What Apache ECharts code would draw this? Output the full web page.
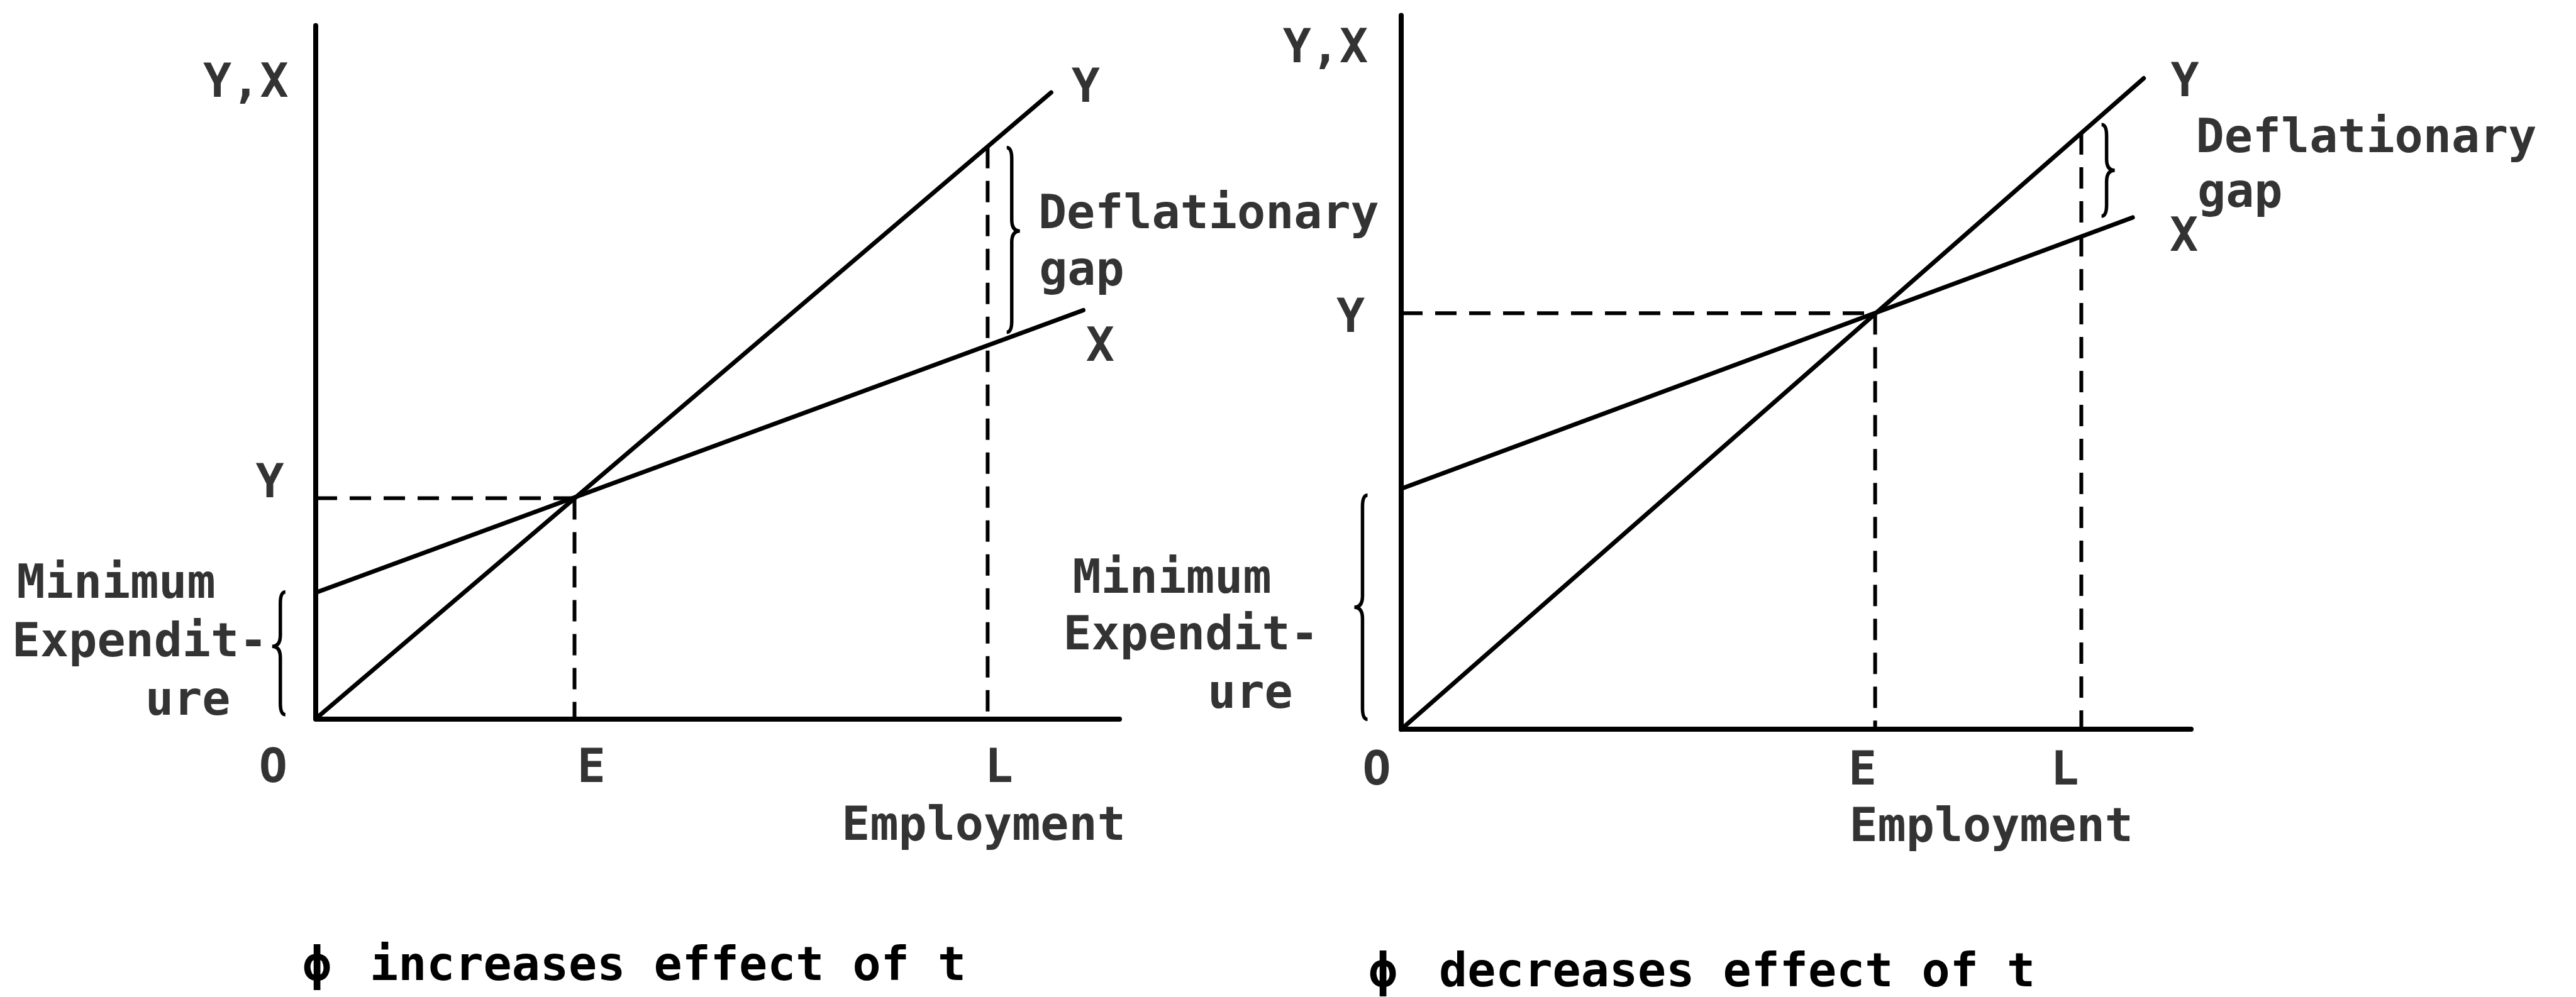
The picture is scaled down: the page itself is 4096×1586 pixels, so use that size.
<!DOCTYPE html>
<html>
<head>
<meta charset="utf-8">
<script src="https://cdn.jsdelivr.net/npm/echarts@6/dist/echarts.min.js"></script>
<style>
  html, body { margin: 0; padding: 0; background: #fff; }
  #chart { width: 4096px; height: 1586px; }
</style>
</head>
<body>
<div id="chart"></div>
<script>
// left panel: phi increases effect of t
const leftYLine = [[0, 0], [9.15, 9.09]];
const leftXLine = [[0, 1.83], [9.55, 5.93]];
const leftE = [3.22, 3.2];
const leftL = [8.36, 8.3];
// braces: [x, top, bottom, tip, direction]
const leftBraces = [[-0.44, 1.84, 0.06, 1.05, -1], [8.66, 8.29, 5.61, 7.08, 1]];
const leftLabels = [
  ['Y,X', -0.87, 9.27], ['Y', -0.57, 3.46], ['Y', 9.58, 9.2], ['X', 9.76, 5.44],
  ['O', -0.53, -0.68], ['E', 3.43, -0.68], ['L', 8.5, -0.68], ['Employment', 8.31, -1.52],
  ['Deflationary', 8.99, 7.36, 'left'], ['gap', 9.0, 6.54, 'left'],
  ['Minimum', -3.72, 2.0, 'left'], ['Expendit-', -3.78, 1.15, 'left'], ['ure', -2.12, 0.30, 'left']
];

// right panel: phi decreases effect of t
const rightYLine = [[0, 0], [9.4, 9.12]];
const rightXLine = [[0, 3.37], [9.26, 7.17]];
const rightE = [6.0, 5.83];
const rightL = [8.61, 8.35];
const rightBraces = [[-0.49, 3.28, 0.14, 1.71, -1], [8.93, 8.47, 7.19, 7.83, 1]];
const rightLabels = [
  ['Y,X', -0.96, 9.58], ['Y', -0.64, 5.8], ['Y', 9.92, 9.1], ['X', 9.91, 6.94],
  ['O', -0.31, -0.54], ['E', 5.84, -0.54], ['L', 8.4, -0.54], ['Employment', 7.47, -1.33],
  ['Deflationary', 10.06, 8.32, 'left'], ['gap', 10.08, 7.55, 'left'],
  ['Minimum', -4.16, 2.15, 'left'], ['Expendit-', -4.28, 1.35, 'left'], ['ure', -2.45, 0.53, 'left']
];

const captions = ['increases effect of t', 'decreases effect of t'];

const FONT = 'DejaVu Sans Mono';
const FS = 75;

function axisBase(gridIndex, max) {
  return {
    gridIndex, type: 'value', min: 0, max,
    axisLine: {show: true, onZero: false, lineStyle: {color: '#000', width: 8}},
    axisTick: {show: false}, axisLabel: {show: false}, splitLine: {show: false}
  };
}

function solid(idx, data) {
  return {type: 'line', xAxisIndex: idx, yAxisIndex: idx, data, symbol: 'none', silent: true,
    lineStyle: {color: '#000', width: 7, cap: 'round'}};
}

function dashed(idx, data) {
  return {type: 'line', xAxisIndex: idx, yAxisIndex: idx, data, symbol: 'none', silent: true,
    lineStyle: {color: '#000', width: 6, type: [34, 20]}};
}

function braceSeries(idx, data) {
  return {
    type: 'custom', xAxisIndex: idx, yAxisIndex: idx, data, silent: true, clip: false,
    renderItem: (params, api) => {
      const x = api.value(0), d = api.value(4);
      const p1 = api.coord([x, api.value(1)]);
      const p2 = api.coord([x, api.value(2)]);
      const pt = api.coord([x, api.value(3)]);
      const X = p1[0], y1 = p1[1], y2 = p2[1], yt = pt[1];
      const e = 8, w = 13, r = 18;
      const path = `M${X - d * e},${y1} Q${X},${y1} ${X},${y1 + r} L${X},${yt - r} ` +
        `Q${X},${yt} ${X + d * w},${yt} Q${X},${yt} ${X},${yt + r} ` +
        `L${X},${y2 - r} Q${X},${y2} ${X - d * e},${y2}`;
      return {type: 'path', shape: {pathData: path},
        style: {stroke: '#000', fill: 'none', lineWidth: 5.5}};
    }
  };
}

function labelSeries(idx, labels) {
  return {
    type: 'scatter', xAxisIndex: idx, yAxisIndex: idx, silent: true, clip: false,
    symbolSize: 1, itemStyle: {color: 'rgba(0,0,0,0)'},
    label: {show: true, position: 'inside', formatter: '{b}', color: '#000', offset: [0, 7],
      fontFamily: FONT, fontSize: FS, fontWeight: 'bold', verticalAlign: 'middle'},
    data: labels.map(([text, x, y, align]) => ({
      name: text, value: [x, y], label: {align: align || 'center'}
    }))
  };
}

function panel(idx, yLine, xLine, E, L, braces, labels) {
  return [
    solid(idx, yLine),
    solid(idx, xLine),
    dashed(idx, [[0, E[1]], E]),
    dashed(idx, [E, [E[0], 0]]),
    dashed(idx, [L, [L[0], 0]]),
    braceSeries(idx, braces),
    labelSeries(idx, labels)
  ];
}

const chart = echarts.init(document.getElementById('chart'));
const capStyle = {fontFamily: FONT, fontSize: FS, fontWeight: 'bold', fill: '#000', verticalAlign: 'middle'};
chart.setOption({
  animation: false,
  backgroundColor: '#fff',
  grid: [
    {left: 502, top: 40.8, width: 1278, height: 1102.5},
    {left: 2228, top: 24.6, width: 1256, height: 1135.6}
  ],
  xAxis: [axisBase(0, 10), axisBase(1, 10)],
  yAxis: [axisBase(0, 10.06), axisBase(1, 10)],
  series: [
    ...panel(0, leftYLine, leftXLine, leftE, leftL, leftBraces, leftLabels),
    ...panel(1, rightYLine, rightXLine, rightE, rightL, rightBraces, rightLabels)
  ],
  graphic: [
    {type: 'text', x: 504, y: 1540, style: {...capStyle, text: 'ϕ', align: 'center'}},
    {type: 'text', x: 588, y: 1540, style: {...capStyle, text: captions[0], align: 'left'}},
    {type: 'text', x: 2199, y: 1550, style: {...capStyle, text: 'ϕ', align: 'center'}},
    {type: 'text', x: 2288, y: 1550, style: {...capStyle, text: captions[1], align: 'left'}}
  ]
});
</script>
</body>
</html>
